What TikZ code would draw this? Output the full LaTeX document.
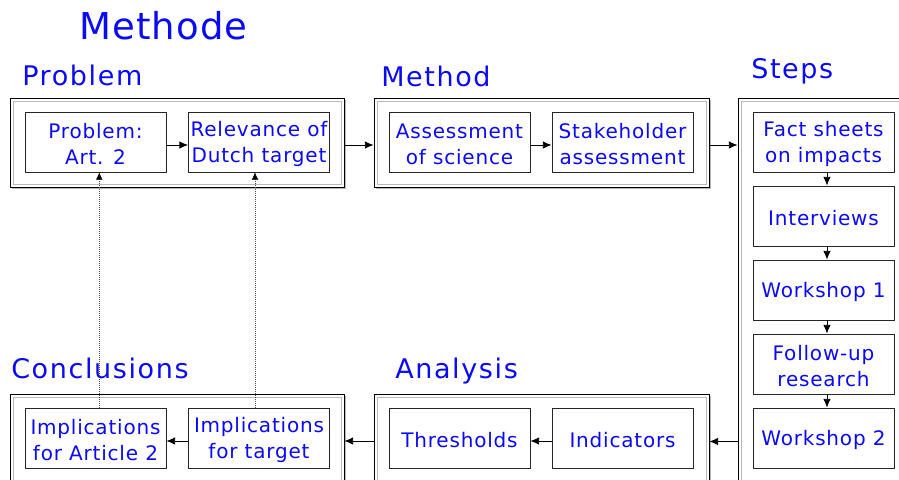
\documentclass[tikz,border=0pt]{standalone}
\usepackage{fontspec}
\setmainfont{DejaVu Sans}[LetterSpace=4]
\newfontfamily\titlefont{DejaVu Sans}[LetterSpace=6]
\newfontfamily\bigtitlefont{DejaVu Sans}[LetterSpace=3]
\usetikzlibrary{arrows.meta,shadows}
\definecolor{txtblue}{RGB}{10,10,245}
\tikzset{
  outerbox/.style={draw=black, line width=0.6pt, fill=white, inner sep=0pt,
    drop shadow={shadow xshift=1.6pt, shadow yshift=-1.6pt, fill=black!28, opacity=1},
    path picture={\draw[black!28, line width=0.45pt]
      ([shift={(2.25pt,-2.25pt)}]path picture bounding box.north west) rectangle
      ([shift={(-2.25pt,2.25pt)}]path picture bounding box.south east);}},
  stepbox/.style={draw=black!85, line width=0.6pt, fill=white, minimum width=105.75pt,
    minimum height=45pt, inner sep=0pt},
  boxtext/.style={align=center, text=txtblue, inner sep=0pt, yshift=-1.6pt,
    font=\fontsize{15pt}{19.5pt}\selectfont},
  grouptitle/.style={anchor=base west, inner sep=0pt, text=txtblue,
    font=\titlefont\fontsize{20.25pt}{24pt}\selectfont},
  flow/.style={draw=black, line width=0.6pt, -{Latex[length=6.5pt,width=5.5pt]}},
  link/.style={draw=black!70, line width=0.4pt, dash pattern=on 0.6pt off 0.9pt,
    -{Latex[length=5.5pt,width=5pt,black]}}
}
\begin{document}
\begin{tikzpicture}[x=0.75pt,y=-0.75pt]
\useasboundingbox (0,0) rectangle (899,479);
\clip (0,0) rectangle (899,479);

% titles
\node[anchor=base west, inner sep=0pt, text=txtblue,
  font=\bigtitlefont\fontsize{27.75pt}{32pt}\selectfont] (tMain) at (79,39) {Methode};
\node[grouptitle] (tProb) at (22,85) {Problem};
\node[grouptitle] (tMeth) at (381,86) {Method};
\node[grouptitle] (tSteps) at (751,78) {Steps};
\node[grouptitle] (tConc) at (11,378) {Conclusions};
\node[grouptitle] (tAna) at (395,378) {Analysis};

% group boxes
\node[outerbox, minimum width=250.5pt, minimum height=66.75pt] (gProb) at (177,142.5) {};
\node[outerbox, minimum width=251.25pt, minimum height=66.75pt] (gMeth) at (541.5,142.5) {};
\node[outerbox, minimum width=166.5pt, minimum height=316.5pt] (gSteps) at (849,309) {};
\node[outerbox, minimum width=250.5pt, minimum height=94.5pt] (gConc) at (177,457) {};
\node[outerbox, minimum width=251.25pt, minimum height=94.5pt] (gAna) at (541.5,457) {};

% inner boxes
\node[stepbox, label={[boxtext]center:{Problem:\\Art. 2}}] (prob) at (95.5,142) {};
\node[stepbox, label={[boxtext]center:{Relevance of\\Dutch target}}] (relev) at (259,142) {};
\node[stepbox, label={[boxtext]center:{Assessment\\of science}}] (assess) at (459.5,142) {};
\node[stepbox, label={[boxtext]center:{Stakeholder\\assessment}}] (stake) at (622.5,142) {};

\node[stepbox, label={[boxtext]center:{Fact sheets\\on impacts}}] (fact) at (823.5,142) {};
\node[stepbox, label={[boxtext]center:{Interviews}}] (inter) at (823.5,216) {};
\node[stepbox, label={[boxtext]center:{Workshop 1}}] (ws1) at (823.5,290) {};
\node[stepbox, label={[boxtext]center:{Follow-up\\research}}] (follow) at (823.5,364) {};
\node[stepbox, label={[boxtext]center:{Workshop 2}}] (ws2) at (823.5,438) {};

\node[stepbox, label={[boxtext]center:{Implications\\for Article 2}}] (art2) at (95.5,438) {};
\node[stepbox, label={[boxtext]center:{Implications\\for target}}] (target) at (259,438) {};
\node[stepbox, label={[boxtext]center:{Thresholds}}] (thresh) at (459.5,438) {};
\node[stepbox, label={[boxtext]center:{Indicators}}] (indic) at (622.5,438) {};

% flow inside groups
\draw[flow] ([yshift=-2.25pt]prob.east) -- ([yshift=-2.25pt]relev.west);
\draw[flow] ([yshift=-2.25pt]assess.east) -- ([yshift=-2.25pt]stake.west);
\draw[flow] ([yshift=-2.25pt]indic.west) -- ([yshift=-2.25pt]thresh.east);
\draw[flow] ([yshift=-2.25pt]target.west) -- ([yshift=-2.25pt]art2.east);
\draw[flow] ([xshift=2.6pt]fact.south) -- ([xshift=2.6pt]inter.north);
\draw[flow] ([xshift=2.6pt]inter.south) -- ([xshift=2.6pt]ws1.north);
\draw[flow] ([xshift=2.6pt]ws1.south) -- ([xshift=2.6pt]follow.north);
\draw[flow] ([xshift=2.6pt]follow.south) -- ([xshift=2.6pt]ws2.north);

% flow between groups
\draw[flow] ([yshift=-2.25pt]gProb.east |- prob.east) -- ([yshift=-2.25pt]gMeth.west |- prob.east);
\draw[flow] ([yshift=-2.25pt]gMeth.east |- stake.east) -- ([yshift=-2.25pt]gSteps.west |- stake.east);
\draw[flow] ([yshift=-2.6pt]gSteps.west |- ws2.west) -- ([yshift=-2.6pt]gAna.east |- ws2.west);
\draw[flow] ([yshift=-2.25pt]gAna.west |- thresh.west) -- ([yshift=-2.25pt]gConc.east |- thresh.west);

% feedback links
\draw[link] ([xshift=2.85pt]art2.north) -- ([xshift=2.85pt]prob.south);
\draw[link] ([xshift=-3pt]target.north) -- ([xshift=-3pt]relev.south);
\end{tikzpicture}
\end{document}
